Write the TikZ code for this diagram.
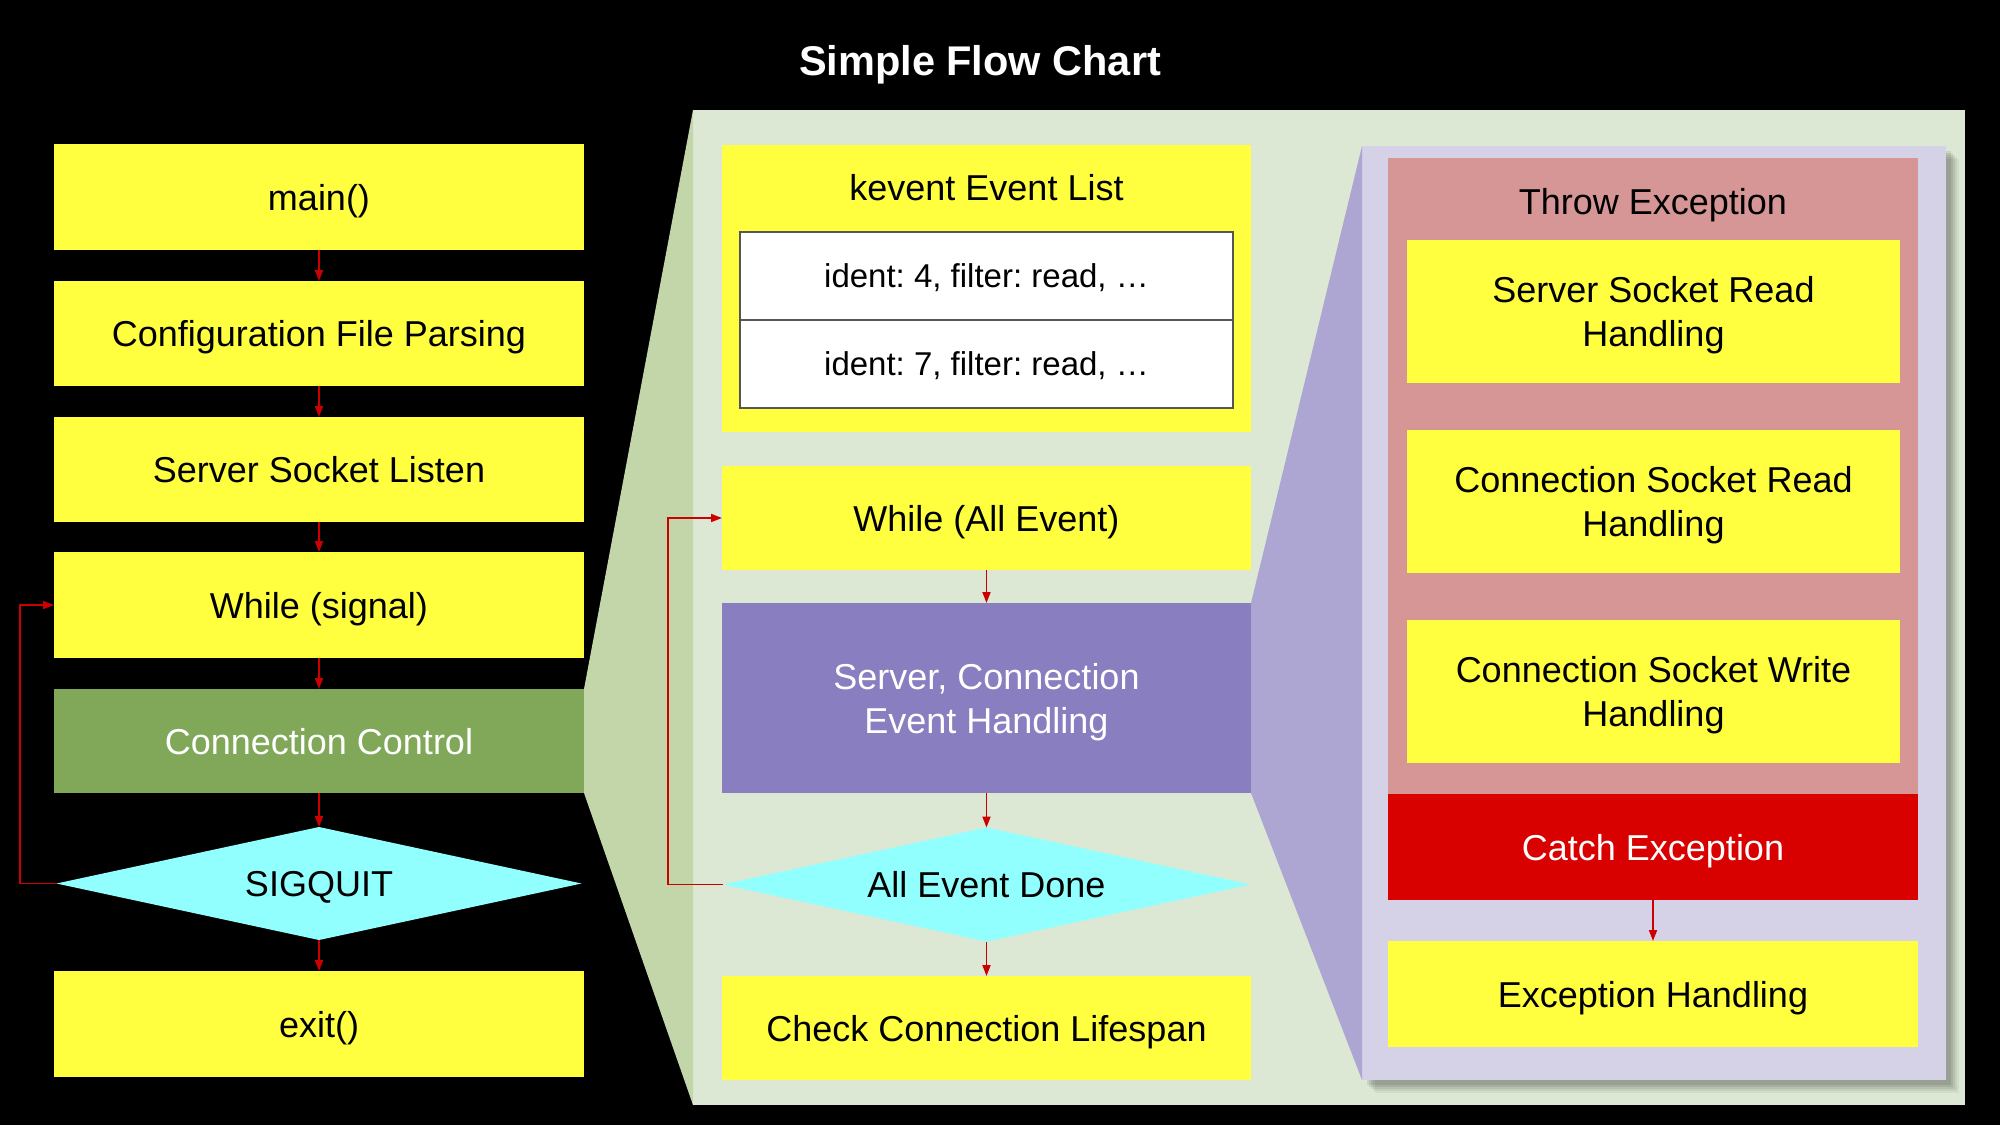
\documentclass[tikz,border=0pt]{standalone}
\usepackage{fontspec}
\setmainfont{Liberation Sans}
\usetikzlibrary{shapes.geometric,arrows.meta}
\definecolor{yel}{RGB}{255,255,64}
\definecolor{ccgreen}{RGB}{128,168,88}
\definecolor{cyanish}{RGB}{146,255,255}
\definecolor{panelgreen}{RGB}{221,232,212}
\definecolor{spotgreen}{RGB}{194,214,170}
\definecolor{scehpurple}{RGB}{136,126,192}
\definecolor{spotpurple}{RGB}{173,166,211}
\definecolor{lavender}{RGB}{213,209,231}
\definecolor{pinkr}{RGB}{214,150,150}
\definecolor{catchred}{RGB}{217,0,0}
\definecolor{arrred}{RGB}{204,0,0}
\definecolor{tabgray}{RGB}{85,85,85}
\frenchspacing
\begin{document}
\begin{tikzpicture}[x=1pt,y=-1pt,
  every node/.style={inner sep=0pt, outer sep=0pt, font=\fontsize{36}{44}\selectfont, align=center, text depth=0pt},
  ybox/.style={rectangle, fill=yel, text=black},
  dec/.style={diamond, aspect=4.6, fill=cyanish, text=black},
  flow/.style={draw=arrred, line width=1.8pt, -{Triangle[length=11pt,width=8pt]}},
  rowbox/.style={rectangle, fill=white, draw=tabgray, line width=1.5pt, minimum width=493pt, minimum height=88pt, font=\fontsize{33}{40}\selectfont}
]
\fill[black] (0,0) rectangle (2000,1125);
\useasboundingbox (0,0) rectangle (2000,1125);

% title
\node[text=white, font=\bfseries\fontsize{41.5}{48}\selectfont] (title) at (980,60) {Simple Flow Chart};

% panels and spotlights
\fill[panelgreen] (693,110) rectangle (1965,1105);
\fill[spotgreen] (584,689) -- (693,110) -- (693,1105) -- (584,793) -- cycle;
\foreach \d/\o in {13/0.05,11/0.06,9/0.07,7/0.08,5/0.09}
  \fill[black,opacity=\o] ({1362+\d},{146+\d}) rectangle ({1946+\d},{1080+\d});
\fill[lavender] (1362,146) rectangle (1946,1080);
\fill[spotpurple] (1251,603) -- (1362,146) -- (1362,1080) -- (1251,793) -- cycle;

% left column
\node[ybox, minimum width=530pt, minimum height=106pt] (main) at (319,197) {main()};
\node[ybox, minimum width=530pt, minimum height=105pt] (config) at (319,333.5) {Configuration File Parsing};
\node[ybox, minimum width=530pt, minimum height=105pt] (ssl) at (319,469.5) {Server Socket Listen};
\node[ybox, minimum width=530pt, minimum height=106pt] (whilesig) at (319,605) {While (signal)};
\node[rectangle, fill=ccgreen, text=white, minimum width=530pt, minimum height=104pt] (cc) at (319,741) {Connection Control};
\node[dec, minimum width=525pt, minimum height=113pt] (sigquit) at (319,883.5) {SIGQUIT};
\node[ybox, minimum width=530pt, minimum height=106pt] (exit) at (319,1024) {exit()};

\draw[flow] (main) -- (config);
\draw[flow] (config) -- (ssl);
\draw[flow] (ssl) -- (whilesig);
\draw[flow] (whilesig) -- (cc);
\draw[flow] (cc) -- (sigquit);
\draw[flow] (sigquit) -- (exit);
\draw[flow] (sigquit.west) -- (20,883.5) |- (whilesig.west);

% middle column
\node[ybox, minimum width=529pt, minimum height=287pt] (kevent) at (986.5,288.5) {};
\node[text=black] (kevtitle) at (986.5,187) {kevent Event List};
\node[rowbox] (ev1) at (986.5,276) {ident: 4, filter: read, …};
\node[rowbox] (ev2) at (986.5,364) {ident: 7, filter: read, …};
\node[ybox, minimum width=529pt, minimum height=104pt] (whileall) at (986.5,518) {While (All Event)};
\node[rectangle, fill=scehpurple, text=white, minimum width=529pt, minimum height=190pt] (sceh) at (986.5,698) {Server, Connection\\Event Handling};
\node[dec, minimum width=528pt, minimum height=114pt] (aed) at (986.5,884.5) {All Event Done};
\node[ybox, minimum width=529pt, minimum height=104pt] (check) at (986.5,1028) {Check Connection Lifespan};

\draw[flow] (whileall) -- (sceh);
\draw[flow] (sceh) -- (aed);
\draw[flow] (aed) -- (check);
\draw[flow] (aed.west) -- (668,884.5) |- (whileall.west);

% right column
\node[rectangle, fill=pinkr, minimum width=530pt, minimum height=636pt] (throw) at (1653,476) {};
\node[text=black] (throwtitle) at (1653,201) {Throw Exception};
\node[ybox, minimum width=493pt, minimum height=143pt] (ssrh) at (1653.5,311.5) {Server Socket Read\\Handling};
\node[ybox, minimum width=493pt, minimum height=143pt] (csrh) at (1653.5,501.5) {Connection Socket Read\\Handling};
\node[ybox, minimum width=493pt, minimum height=143pt] (cswh) at (1653.5,691.5) {Connection Socket Write\\Handling};
\node[rectangle, fill=catchred, text=white, minimum width=530pt, minimum height=106pt] (catch) at (1653,847) {Catch Exception};
\node[ybox, minimum width=530pt, minimum height=106pt] (eh) at (1653,994) {Exception Handling};

\draw[flow] (catch) -- (eh);
\end{tikzpicture}
\end{document}
